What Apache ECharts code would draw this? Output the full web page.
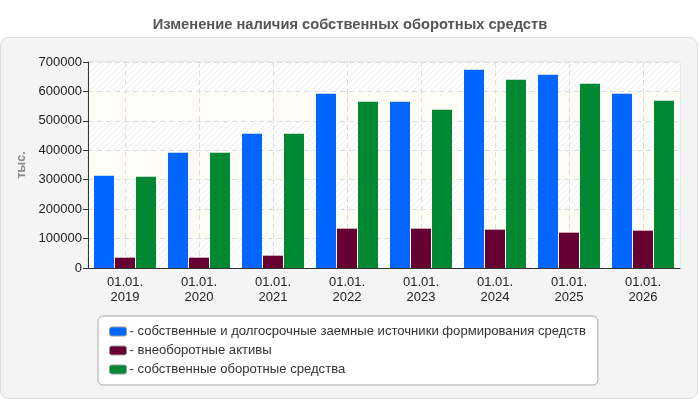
<!DOCTYPE html>
<html>
<head>
<meta charset="utf-8">
<script src="https://cdn.jsdelivr.net/npm/echarts@6/dist/echarts.min.js"></script>
<style>
  html, body { margin: 0; padding: 0; background: #fff; }
  #chart { width: 700px; height: 400px; }
</style>
</head>
<body>
<div id="chart"></div>
<script>
// даты отчётов
var dates = ["01.01.\n2019", "01.01.\n2020", "01.01.\n2021", "01.01.\n2022", "01.01.\n2023", "01.01.\n2024", "01.01.\n2025", "01.01.\n2026"];
// значения, тыс.
var sourcesFunds = [313700, 391900, 456500, 592400, 565200, 674000, 657000, 592400];
var nonCurrentAssets = [35100, 35100, 41900, 133700, 133700, 130300, 120100, 126900];
var ownWorkingCapital = [310400, 391900, 456500, 565200, 538000, 640000, 626400, 568600];
var seriesNames = [
  "собственные и долгосрочные заемные источники формирования средств",
  "внеоборотные активы",
  "собственные оборотные средства"
];

// штриховка фона
function hatch() {
  var c = document.createElement("canvas");
  c.width = 6; c.height = 6;
  var ctx = c.getContext("2d");
  ctx.fillStyle = "#ffffff";
  ctx.fillRect(0, 0, 6, 6);
  ctx.strokeStyle = "#ececec";
  ctx.lineWidth = 1;
  ctx.beginPath();
  ctx.moveTo(0, 6); ctx.lineTo(6, 0);
  ctx.moveTo(-3, 3); ctx.lineTo(3, -3);
  ctx.moveTo(3, 9); ctx.lineTo(9, 3);
  ctx.stroke();
  return c;
}

var myChart = echarts.init(document.getElementById("chart"));

var option = {
  animation: false,
  title: {
    text: "Изменение наличия собственных оборотных средств",
    left: "center",
    top: 12,
    textStyle: { color: "#555", fontSize: 14.7, fontWeight: "bold", fontFamily: "Liberation Sans" }
  },
  graphic: {
    elements: [{
      type: "rect",
      z: -10,
      shape: { x: 0.5, y: 37.5, width: 697, height: 361, r: 8 },
      style: { fill: "#f4f4f4", stroke: "#dddddd", lineWidth: 1 }
    }]
  },
  grid: {
    left: 88, right: 20, top: 62, bottom: 132,
    show: true,
    borderColor: "#dddddd",
    backgroundColor: "transparent"
  },
  legend: {
    orient: "vertical",
    left: 98,
    top: 316,
    padding: [8, 12, 8, 11],
    itemGap: 4,
    itemWidth: 17,
    itemHeight: 9,
    icon: "roundRect",
    backgroundColor: "#ffffff",
    borderColor: "#aaaaaa",
    borderWidth: 1,
    borderRadius: 5,
    formatter: function (name) { return "- " + name; },
    textStyle: { color: "#333", fontSize: 13.1, lineHeight: 15, fontFamily: "Liberation Sans", padding: [0, 0, 0, -2] },
    itemStyle: { borderColor: "#999", borderWidth: 1 }
  },
  xAxis: {
    type: "category",
    data: dates,
    axisLine: { lineStyle: { color: "#333" } },
    axisTick: { alignWithLabel: true, length: 5, lineStyle: { color: "#333" } },
    axisLabel: { color: "#222", fontSize: 13, fontFamily: "Liberation Sans", lineHeight: 15, margin: 7 },
    splitLine: { show: true, alignWithLabel: true, lineStyle: { color: "#dddddd", type: [5, 4] } }
  },
  yAxis: {
    type: "value",
    min: 0,
    max: 700000,
    interval: 100000,
    name: "тыс.",
    nameLocation: "middle",
    nameGap: 60,
    nameTextStyle: { color: "#888", fontSize: 12.5, fontWeight: "bold", fontFamily: "Liberation Sans" },
    axisLine: { show: true, lineStyle: { color: "#333" } },
    axisTick: { show: true, length: 5, lineStyle: { color: "#333" } },
    axisLabel: {
      color: "#222", fontSize: 13, fontFamily: "Liberation Sans", margin: 6,
      formatter: function (v) { return String(v); }
    },
    splitLine: { lineStyle: { color: "#dddddd", type: [5, 4] } },
    splitArea: {
      show: true,
      areaStyle: { color: [{ image: hatch(), repeat: "repeat" }, "#fdfdf6"] }
    }
  },
  series: [
    { name: seriesNames[0], type: "bar", data: sourcesFunds, barWidth: 20, barGap: "5%", itemStyle: { color: "#0066ff" } },
    { name: seriesNames[1], type: "bar", data: nonCurrentAssets, barWidth: 20, barGap: "5%", itemStyle: { color: "#660033" } },
    { name: seriesNames[2], type: "bar", data: ownWorkingCapital, barWidth: 20, barGap: "5%", itemStyle: { color: "#008833" } }
  ]
};

myChart.setOption(option);
</script>
</body>
</html>
